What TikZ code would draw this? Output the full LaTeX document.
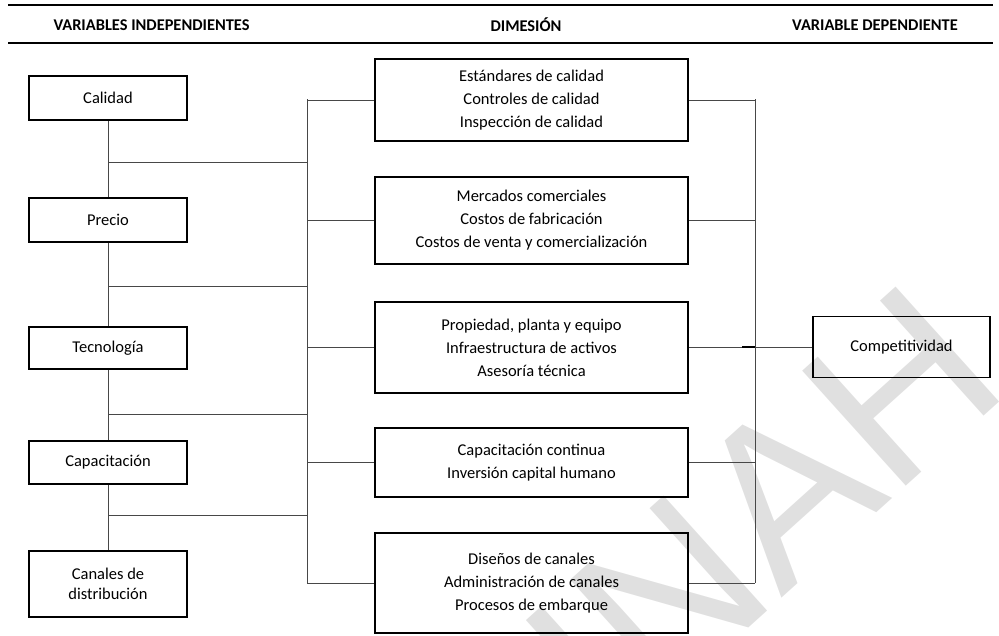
\documentclass[tikz,border=0pt]{standalone}
\usepackage{fontspec}
\setmainfont{Carlito}
\newfontfamily\wmfont{Liberation Sans}
\tikzset{
  box/.style={draw=black, line width=1.5pt, align=center, inner sep=0pt,
    font=\fontsize{16.5}{23}\selectfont},
  lbox/.style={box, minimum width=158pt, font=\fontsize{16.5}{20}\selectfont},
  mbox/.style={box, minimum width=313pt},
  conn/.style={draw=black!72, line width=0.9pt},
  rule/.style={draw=black, line width=1.4pt},
  head/.style={font=\fontsize{16.4}{19}\selectfont\bfseries, inner sep=0pt},
  wm/.style={text=black!12, font=\wmfont\fontsize{225}{225}\selectfont, inner sep=0pt}
}
\begin{document}
\begin{tikzpicture}[x=1pt,y=-1pt]
\useasboundingbox (0,0) rectangle (999,635);
\begin{scope}
\clip (0,0) rectangle (999,635);
% watermark
\node[wm, rotate=42] (wmark) at (762,512) {INAH};
\end{scope}
% header
\coordinate (r1a) at (8,5); \coordinate (r1b) at (993,5);
\coordinate (r2a) at (8,43); \coordinate (r2b) at (993,43);
\draw[rule] (r1a) -- (r1b);
\draw[rule] (r2a) -- (r2b);
\node[head] (h1) at (151.5,25) {VARIABLES INDEPENDIENTES};
\node[head] (h2) at (526,25) {DIMESIÓN};
\node[head] (h3) at (875,25) {VARIABLE DEPENDIENTE};
% left boxes
\node[lbox, minimum height=44pt] (cal) at (108,98) {Calidad};
\node[lbox, minimum height=44pt] (pre) at (108,220) {Precio};
\node[lbox, minimum height=42pt] (tec) at (108,348) {Tecnología};
\node[lbox, minimum height=43pt] (cap) at (108,462.5) {Capacitación};
\node[lbox, minimum height=66pt] (can) at (108,584) {Canales de\\distribución};
% middle boxes
\node[mbox, minimum height=82pt] (d1) at (531.5,100) {Estándares de calidad\\Controles de calidad\\Inspección de calidad};
\node[mbox, minimum height=87pt] (d2) at (531.5,220.5) {Mercados comerciales\\Costos de fabricación\\Costos de venta y comercialización};
\node[mbox, minimum height=91pt] (d3) at (531.5,347.5) {Propiedad, planta y equipo\\Infraestructura de activos\\Asesoría técnica};
\node[mbox, minimum height=69pt] (d4) at (531.5,462.5) {Capacitación continua\\Inversión capital humano};
\node[mbox, minimum height=100pt] (d5) at (531.5,583) {Diseños de canales\\Administración de canales\\Procesos de embarque};
% dependent
\node[box, minimum width=177pt, minimum height=61pt] (comp) at (901.5,347) {Competitividad};
% left chain
\draw[conn] (cal.south) -- (pre.north);
\draw[conn] (pre.south) -- (tec.north);
\draw[conn] (tec.south) -- (cap.north);
\draw[conn] (cap.south) -- (can.north);
% junctions to middle bus
\coordinate (mt) at (307,99);
\coordinate (mb) at (307,583);
\draw[conn] (mt) -- (mb);
\coordinate (j1) at (108,162);
\coordinate (j2) at (108,286);
\coordinate (j3) at (108,414);
\coordinate (j4) at (108,515);
\draw[conn] (j1) -- (j1 -| mt);
\draw[conn] (j2) -- (j2 -| mt);
\draw[conn] (j3) -- (j3 -| mt);
\draw[conn] (j4) -- (j4 -| mt);
\foreach \d in {d1,d2,d3,d4,d5} { \draw[conn] (\d.west) -- (\d.west -| mt); }
% right bus
\coordinate (rt) at (755,99);
\coordinate (rb) at (755,583);
\draw[conn] (rt) -- (rb);
\foreach \d in {d1,d2,d3,d4,d5} { \draw[conn] (\d.east) -- (\d.east -| rt); }
\draw[conn] (comp.west) -- (comp.west -| rt);
\coordinate (tk) at (742,347);
\draw[black, line width=1.4pt] (tk) -- (tk -| rt);
\end{tikzpicture}
\end{document}
